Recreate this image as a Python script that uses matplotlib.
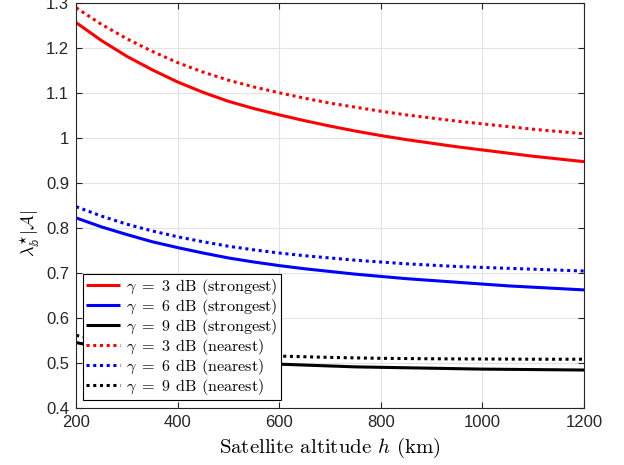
import numpy as np
import matplotlib
matplotlib.use('Agg')
import matplotlib.pyplot as plt

# --- data: normalised density vs satellite altitude ---
altitude_km = [200, 250, 300, 350, 400, 450, 500, 550, 600, 650, 700,
               750, 800, 850, 900, 950, 1000, 1050, 1100, 1150, 1200]

strongest_3db = [1.257, 1.217, 1.182, 1.152, 1.125, 1.102, 1.082, 1.066, 1.052, 1.039, 1.027,
                 1.016, 1.006, 0.997, 0.989, 0.981, 0.974, 0.967, 0.960, 0.954, 0.948]
strongest_6db = [0.823, 0.803, 0.786, 0.770, 0.757, 0.745, 0.734, 0.725, 0.717, 0.710, 0.704,
                 0.698, 0.693, 0.688, 0.684, 0.680, 0.676, 0.672, 0.669, 0.666, 0.663]
strongest_9db = [0.546, 0.535, 0.526, 0.519, 0.513, 0.508, 0.504, 0.501, 0.498, 0.496, 0.494,
                 0.492, 0.491, 0.490, 0.489, 0.488, 0.487, 0.4865, 0.486, 0.4855, 0.485]
nearest_3db = [1.290, 1.253, 1.221, 1.193, 1.168, 1.147, 1.129, 1.114, 1.101, 1.089, 1.078,
               1.069, 1.060, 1.052, 1.045, 1.038, 1.032, 1.026, 1.020, 1.015, 1.010]
nearest_6db = [0.848, 0.827, 0.809, 0.794, 0.781, 0.770, 0.760, 0.752, 0.745, 0.739, 0.734,
               0.729, 0.725, 0.721, 0.718, 0.715, 0.713, 0.711, 0.709, 0.707, 0.705]
nearest_9db = [0.562, 0.551, 0.542, 0.535, 0.529, 0.525, 0.521, 0.518, 0.516, 0.5145, 0.513,
               0.512, 0.511, 0.5105, 0.510, 0.5097, 0.5095, 0.5093, 0.509, 0.509, 0.509]

gamma_db = [3, 6, 9]
colors = ['#ff0000', '#0000ff', '#000000']

plt.rcParams['mathtext.fontset'] = 'cm'
plt.rcParams['axes.unicode_minus'] = False

AX_COLOR = '#262626'
SERIF = 'cmr10'
DOT = (0, (1, 1.2))


def main():
    fig = plt.figure(figsize=(6.24, 4.65), dpi=100)
    ax = fig.add_axes([0.122, 0.122, 0.814, 0.871])

    strongest = [strongest_3db, strongest_6db, strongest_9db]
    nearest = [nearest_3db, nearest_6db, nearest_9db]

    for g, c, ys in zip(gamma_db, colors, strongest):
        ax.plot(altitude_km, ys, color=c, lw=2.2, solid_capstyle='butt',
                solid_joinstyle='round', label=rf'$\gamma\ =\ {g}$ dB (strongest)')
    for g, c, ys in zip(gamma_db, colors, nearest):
        ax.plot(altitude_km, ys, color=c, lw=2.2, linestyle=DOT,
                dash_capstyle='butt', label=rf'$\gamma\ =\ {g}$ dB (nearest)')

    ax.set_xlim(200, 1200)
    ax.set_ylim(0.4, 1.3)
    ax.set_xticks(np.arange(200, 1201, 200))
    ax.set_yticks(np.arange(0.4, 1.31, 0.1))
    ax.set_yticklabels(['0.4', '0.5', '0.6', '0.7', '0.8', '0.9', '1', '1.1', '1.2', '1.3'])

    ax.grid(True, color='#e3e3e3', lw=0.8)
    ax.set_axisbelow(True)
    ax.tick_params(direction='in', top=True, right=True, length=4, width=0.8,
                   colors=AX_COLOR, labelsize=12, pad=5)
    for lab in ax.get_xticklabels() + ax.get_yticklabels():
        lab.set_family('Liberation Sans')
    for sp in ax.spines.values():
        sp.set_color(AX_COLOR)
        sp.set_linewidth(0.8)

    ax.set_xlabel(r'Satellite altitude $h$ (km)', fontsize=15, family=SERIF,
                  labelpad=4)
    ax.set_ylabel(r'$\lambda^{\star}_{\mathbb{b}}|\mathcal{A}|$', fontsize=13)
    ax.yaxis.set_label_coords(-0.067, 0.432)

    leg = ax.legend(loc='lower left', bbox_to_anchor=(0.014, 0.02),
                    borderaxespad=0, fancybox=False, framealpha=1,
                    edgecolor='black', handlelength=2.1, handletextpad=0.35,
                    labelspacing=0.0, borderpad=0.2,
                    prop={'family': SERIF, 'size': 11.6})
    leg.get_frame().set_linewidth(0.8)

    fig.savefig('out.png', dpi=100)


if __name__ == "__main__":
    main()
